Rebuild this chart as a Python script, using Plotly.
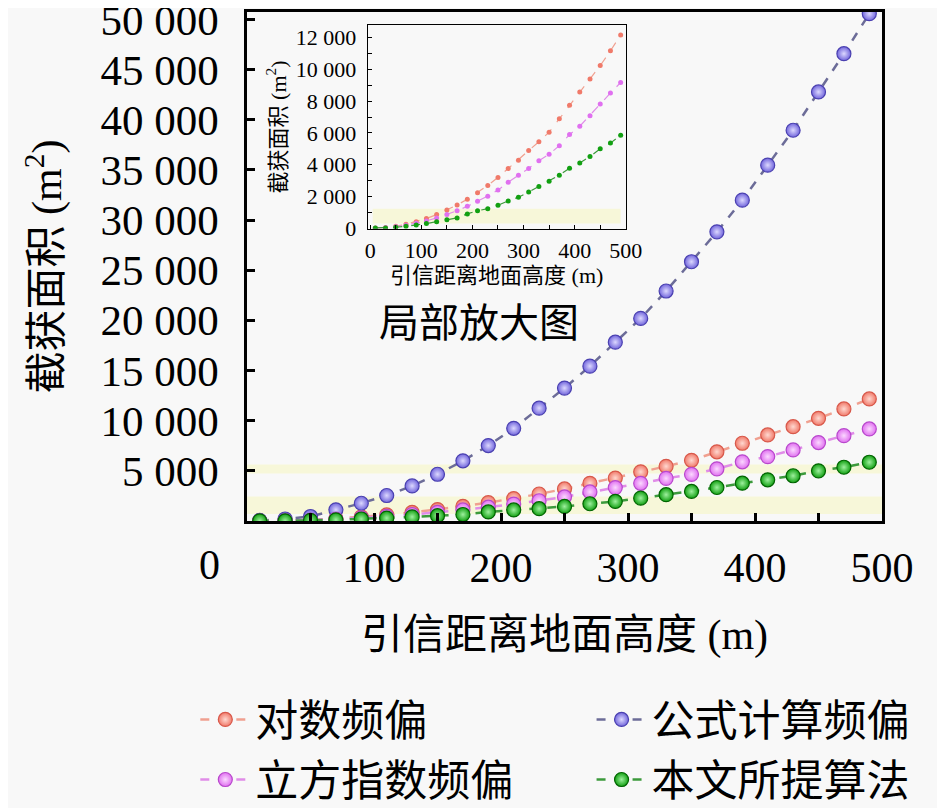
import plotly.graph_objects as go

# ---------------- data ----------------
heights = [10, 30, 50, 70, 90, 110, 130, 150, 170, 190, 210, 230, 250,
           270, 290, 310, 330, 350, 370, 390, 410, 430, 450, 470, 490]

log_bias = [5, 45, 125, 250, 410, 610, 860, 1140, 1460, 1830, 2240, 2690, 3200,
            3760, 4280, 4900, 5450, 6050, 6900, 7750, 8580, 9400, 10240, 11170, 12170]

formula_bias = [60, 200, 450, 1110, 1770, 2540, 3500, 4660, 6000, 7520, 9240, 11250, 13250,
                15440, 17830, 20200, 22930, 25850, 28830, 31990, 35480, 38960, 42780, 46590, 50580]

cubic_bias = [4, 35, 95, 190, 310, 460, 650, 860, 1100, 1380, 1690, 2020, 2400,
              2900, 3330, 3760, 4250, 4650, 5200, 5900, 6420, 7090, 7820, 8510, 9180]

proposed = [15, 20, 60, 120, 200, 290, 410, 530, 650, 900, 1100, 1230, 1450,
            1720, 1950, 2280, 2620, 2950, 3340, 3770, 4110, 4510, 5000, 5360, 5860]

names = ["对数频偏", "公式计算频偏", "立方指数频偏", "本文所提算法"]

main_y_tickvals = [5000, 10000, 15000, 20000, 25000, 30000, 35000, 40000, 45000, 50000]
main_y_ticktext = ["5 000", "10 000", "15 000", "20 000", "25 000",
                   "30 000", "35 000", "40 000", "45 000", "50 000"]
main_x_tickvals = [100, 200, 300, 400, 500]
main_x_ticktext = ["100", "200", "300", "400", "500"]

inset_y_tickvals = [0, 2000, 4000, 6000, 8000, 10000, 12000]
inset_y_ticktext = ["0", "2 000", "4 000", "6 000", "8 000", "10 000", "12 000"]
inset_x_tickvals = [0, 100, 200, 300, 400, 500]
inset_x_ticktext = ["0", "100", "200", "300", "400", "500"]

main_bands = [[700, 2440], [4730, 5630]]
inset_band = [300, 1230]

# ---------------- style ----------------
BG = "#f8f8f8"
BAND = "#f7f7d9"
FONT = "Liberation Serif, Noto Sans CJK SC, serif"
fills = ["#f07a6a", "#7266dc", "#e070f0", "#12a012"]
edges = ["#d8584a", "#4a40b0", "#b848cc", "#006400"]
highlights = ["#ffd8d0", "#dcd8ff", "#fbd8ff", "#9ef09e"]
lines = ["#f0a090", "#6c6c98", "#e08ce8", "#3c9a3c"]
series = [log_bias, formula_bias, cubic_bias, proposed]
legend_of = ["legend", "legend2", "legend3", "legend4"]

fig = go.Figure()

for i in range(4):
    fig.add_trace(go.Scatter(
        x=heights, y=series[i], name=names[i], mode="lines+markers",
        line=dict(color=lines[i], width=2.5, dash="dash"),
        marker=dict(size=14, color=fills[i], line=dict(color=edges[i], width=1.2),
                    gradient=dict(type="radial", color=highlights[i])),
        xaxis="x", yaxis="y", legend=legend_of[i],
    ))

for i in [0, 2, 3]:
    fig.add_trace(go.Scatter(
        x=heights, y=series[i], mode="lines+markers", showlegend=False,
        line=dict(color=lines[i], width=1.2, dash="dash"),
        marker=dict(size=5, color=fills[i], line=dict(width=0)),
        xaxis="x2", yaxis="y2",
    ))

for b in main_bands:
    fig.add_shape(type="rect", xref="x", yref="y", x0=0, x1=500, y0=b[0], y1=b[1],
                  fillcolor=BAND, line=dict(width=0), layer="below")
fig.add_shape(type="rect", xref="x2", yref="y2", x0=5, x1=490,
              y0=inset_band[0], y1=inset_band[1],
              fillcolor=BAND, line=dict(width=0), layer="below")

axis_common = dict(showgrid=False, zeroline=False, showline=True, linecolor="black",
                   mirror=True, ticks="inside", tickcolor="black", ticklabeloverflow="allow")

legend_common = dict(orientation="v", xanchor="left", yanchor="middle",
                     itemwidth=50, bgcolor="rgba(0,0,0,0)",
                     font=dict(size=43, family=FONT))

row1, row2 = -0.39, -0.508
col1, col2 = -0.0814, 0.5426

fig.update_layout(
    width=945, height=808,
    paper_bgcolor=BG, plot_bgcolor=BG,
    margin=dict(l=239, r=71, t=4, b=295, autoexpand=False),
    font=dict(family=FONT, color="black"),
    xaxis=dict(**axis_common, range=[0, 500], linewidth=2.5,
               tickvals=main_x_tickvals, ticktext=main_x_ticktext,
               ticklen=8, tickwidth=2.5, ticklabelstandoff=8,
               minor=dict(dtick=50, ticks="inside", ticklen=8, tickwidth=2.5, tickcolor="black"),
               tickfont=dict(size=42, family=FONT),
               title=dict(text="引信距离地面高度 (m)", font=dict(size=42, family=FONT), standoff=30)),
    yaxis=dict(**axis_common, range=[0, 50750], linewidth=2.5,
               tickvals=main_y_tickvals, ticktext=main_y_ticktext,
               ticklen=8, tickwidth=2.5, ticklabelstandoff=17,
               tickfont=dict(size=43, family=FONT),
               title=dict(text="截获面积 (m<sup>2</sup>)", font=dict(size=42, family=FONT), standoff=26)),
    xaxis2=dict(**axis_common, domain=[0.190, 0.5965], anchor="y2", range=[-5, 500],
                linewidth=1,
                tickvals=inset_x_tickvals, ticktext=inset_x_ticktext,
                ticklen=4, tickwidth=1, ticklabelstandoff=2,
                minor=dict(dtick=50, ticks="inside", ticklen=4, tickwidth=1, tickcolor="black"),
                tickfont=dict(size=22, family=FONT),
                title=dict(text="引信距离地面高度 (m)", font=dict(size=22, family=FONT), standoff=4)),
    yaxis2=dict(**axis_common, domain=[0.574, 0.9745], anchor="x2", range=[-40, 12800],
                linewidth=1,
                tickvals=inset_y_tickvals, ticktext=inset_y_ticktext,
                ticklen=4, tickwidth=1, ticklabelstandoff=6,
                minor=dict(dtick=1000, ticks="inside", ticklen=4, tickwidth=1, tickcolor="black"),
                tickfont=dict(size=22, family=FONT),
                title=dict(text="截获面积 (m<sup>2</sup>)", font=dict(size=22, family=FONT), standoff=3)),
    legend=dict(**legend_common, x=col1, y=row1),
    legend2=dict(**legend_common, x=col2, y=row1),
    legend3=dict(**legend_common, x=col1, y=row2),
    legend4=dict(**legend_common, x=col2, y=row2),
    annotations=[
        dict(text="0", xref="paper", yref="paper", x=-0.059, y=-0.087, showarrow=False,
             font=dict(size=42, family=FONT), xanchor="center", yanchor="middle"),
        dict(text="局部放大图", xref="paper", yref="paper", x=0.366, y=0.3876, showarrow=False,
             font=dict(size=40, family=FONT), xanchor="center", yanchor="middle"),
    ],
)

fig.write_html("out.html")
